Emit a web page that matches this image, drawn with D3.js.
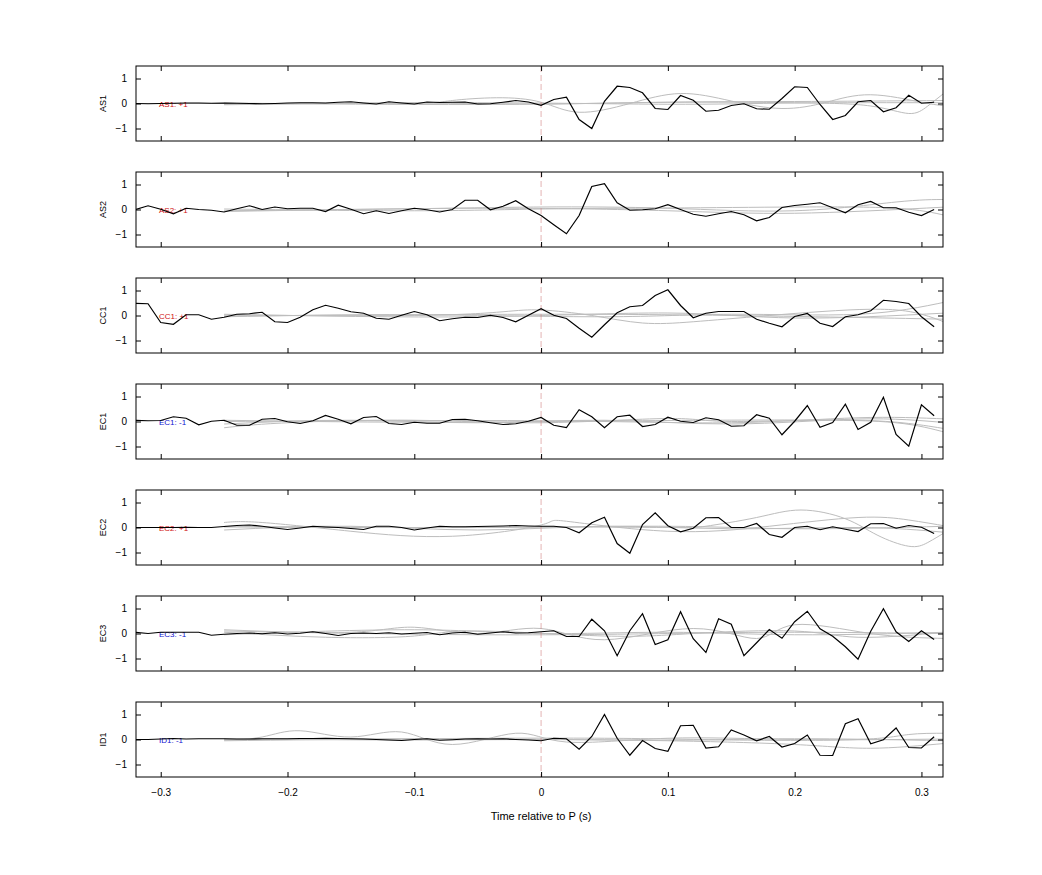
<!DOCTYPE html>
<html>
<head>
<meta charset="utf-8">
<script src="https://cdn.jsdelivr.net/npm/d3@7"></script>
<style>
body { margin: 0; background: #fff; }
text { font-family: "Liberation Sans", Arial, sans-serif; }
</style>
</head>
<body>
<div id="chart"></div>
<script>
// channel names, polarity labels
var channels = ["AS1", "AS2", "CC1", "EC1", "EC2", "EC3", "ID1"];
var labels = ["AS1: +1", "AS2: +1", "CC1: +1", "EC1: -1", "EC2: +1", "EC3: -1", "ID1: -1"];
var polarity = [1, 1, 1, -1, 1, -1, -1];
var xTicks = [-0.3, -0.2, -0.1, 0, 0.1, 0.2, 0.3];
var yTicks = [-1, 0, 1];

// sample times -0.32 .. 0.31 (s)
var times = d3.range(-32, 32).map(function(k) { return k / 100; });

// black traces: before P (32 samples) and after P (32 samples)
var pre = {
  AS1: [0,-0.01,0,0.01,0.02,0.02,0.01,0.02,0.01,0,-0.01,0,0.02,0.03,0.03,0.02,0.05,0.07,0.02,-0.02,0.07,0.02,-0.02,0.06,0.04,0.05,0.06,-0.02,-0.01,0.05,0.12,0.06],
  AS2: [0,0.15,0.01,-0.17,0.05,0,-0.03,-0.1,0.03,0.15,0,0.1,0.03,0.05,0.05,-0.08,0.17,0.01,-0.17,-0.05,-0.16,-0.05,0.05,-0.01,-0.1,0,0.37,0.37,-0.01,0.13,0.35,0.03],
  CC1: [0.49,0.47,-0.28,-0.35,0.03,0.03,-0.15,-0.07,0.05,0.07,0.13,-0.25,-0.28,-0.07,0.23,0.41,0.29,0.15,0.09,-0.11,-0.15,0.01,0.16,0.03,-0.21,-0.13,-0.07,-0.08,0.01,-0.08,-0.25,0.01],
  EC1: [0.05,0.03,0.04,0.19,0.13,-0.13,0.01,0.05,-0.15,-0.15,0.09,0.12,-0.01,-0.08,0.03,0.24,0.09,-0.09,0.16,0.2,-0.08,-0.12,-0.03,-0.07,-0.07,0.08,0.09,0.03,-0.05,-0.12,-0.09,0.01],
  EC2: [0,0,0,0,0.01,0,0,0.04,0.08,0.1,0.05,-0.02,-0.08,-0.02,0.05,0.02,0,-0.04,-0.08,0.05,0.05,0,-0.1,-0.02,0.05,0.03,0.03,0.04,0.05,0.06,0.08,0.06],
  EC3: [0.05,0,0.05,0.05,0.05,0.05,-0.07,-0.03,0,0.02,-0.01,0.03,-0.02,0.01,0.07,0,-0.08,0,0.02,0,0.03,-0.02,0.01,0.04,-0.05,0.02,0.05,-0.03,0.02,0.07,0.02,0.03],
  ID1: [0,0,0.02,0.04,0.02,0.03,0.03,0.03,0.02,0.02,0.03,0.03,0.03,0.04,0.04,0.05,0.04,0.03,0.02,0,-0.02,-0.04,0,0.03,-0.03,-0.01,0.02,0.03,0.02,0.03,0,-0.02]
};
var post = {
  AS1: [-0.07,0.16,0.25,-0.64,-1.0,0.09,0.69,0.64,0.43,-0.2,-0.24,0.32,0.13,-0.31,-0.27,-0.08,-0.01,-0.21,-0.23,0.2,0.67,0.64,-0.04,-0.64,-0.48,0.07,0.12,-0.33,-0.17,0.33,0.01,0.05],
  AS2: [-0.24,-0.61,-0.97,-0.24,0.92,1.03,0.27,-0.03,-0.01,0.03,0.19,0,-0.19,-0.27,-0.17,-0.08,-0.21,-0.45,-0.32,0.08,0.16,0.21,0.27,0.07,-0.13,0.19,0.32,0.07,0.07,-0.11,-0.24,0],
  CC1: [0.27,0.01,-0.12,-0.51,-0.87,-0.37,0.11,0.35,0.4,0.8,1.03,0.4,-0.09,0.09,0.16,0.16,0.16,-0.15,-0.31,-0.45,-0.04,0.08,-0.31,-0.44,-0.05,0.03,0.19,0.61,0.56,0.48,-0.05,-0.45],
  EC1: [0.16,-0.15,-0.24,0.47,0.19,-0.25,0.19,0.25,-0.2,-0.12,0.17,0.01,-0.04,0.15,0.07,-0.19,-0.17,0.27,0.13,-0.53,0.01,0.64,-0.23,-0.04,0.69,-0.32,-0.03,0.97,-0.52,-0.99,0.67,0.23],
  EC2: [0.05,0.05,0,-0.21,0.19,0.41,-0.64,-1.03,0.12,0.59,0.07,-0.17,-0.03,0.39,0.4,0,0,0.16,-0.28,-0.39,0,0.05,-0.09,0.03,-0.07,-0.16,0.15,0.16,-0.03,0.08,0.01,-0.24],
  EC3: [0.07,0.11,-0.12,-0.12,0.57,0.11,-0.89,0.11,0.79,-0.44,-0.25,0.87,-0.21,-0.76,0.59,0.37,-0.89,-0.37,0.16,-0.19,0.47,0.89,0.19,-0.11,-0.53,-1.03,0.09,0.99,0.07,-0.32,0.11,-0.24],
  ID1: [-0.05,0.05,0.03,-0.39,0.12,1.0,0.05,-0.63,-0.04,-0.36,-0.47,0.55,0.57,-0.34,-0.29,0.38,0.18,-0.05,0.12,-0.3,-0.16,0.18,-0.63,-0.64,0.63,0.83,-0.17,-0.01,0.46,-0.32,-0.34,0.11]
};

// grey comparison traces: knots [t, value]
var grey = {
  AS1: [
    [[-0.32,0],[-0.2,0],[-0.1,0.02],[-0.07,0.12],[-0.035,0.23],[0,0.05],[0.03,-0.35],[0.07,0],[0.11,0.4],[0.15,0.1],[0.19,-0.2],[0.225,0.05],[0.26,0.35],[0.3,0.05],[0.32,-0.1]],
    [[-0.25,-0.03],[-0.1,0.02],[0,-0.02],[0.1,0.05],[0.2,0.03],[0.26,-0.1],[0.29,-0.4],[0.305,-0.1],[0.32,0.5]],
    [[-0.25,0.02],[-0.05,-0.04],[0.1,0.05],[0.2,0.08],[0.32,0.12]],
    [[-0.25,-0.05],[-0.05,0.03],[0.1,-0.03],[0.2,0.02],[0.32,0.03]]
  ],
  AS2: [
    [[-0.25,-0.05],[-0.1,0.03],[0,0.1],[0.1,0.05],[0.2,-0.05],[0.28,0.3],[0.32,0.4]],
    [[-0.25,0.02],[-0.1,-0.05],[0,0.02],[0.1,0.06],[0.2,0.1],[0.28,0.05],[0.32,-0.25]],
    [[-0.25,-0.08],[-0.05,0.05],[0.1,-0.05],[0.2,-0.15],[0.32,0.1]]
  ],
  CC1: [
    [[-0.25,0.02],[-0.1,0],[-0.03,0.15],[0,0.22],[0.04,0],[0.08,-0.3],[0.12,-0.25],[0.18,0],[0.26,0.25],[0.3,0.05],[0.32,-0.3]],
    [[-0.25,-0.05],[-0.1,0.03],[0.05,-0.05],[0.15,0.05],[0.25,0.05],[0.32,0.55]],
    [[-0.25,0.05],[-0.05,-0.05],[0.1,0.1],[0.2,-0.1],[0.32,0.1]],
    [[-0.25,-0.02],[0,0.05],[0.15,0],[0.25,-0.08],[0.32,-0.15]]
  ],
  EC1: [
    [[-0.25,-0.25],[-0.2,-0.05],[-0.1,0.05],[0,-0.05],[0.1,0.12],[0.15,0],[0.25,0.05],[0.32,-0.3]],
    [[-0.25,-0.1],[-0.15,0.05],[-0.05,-0.05],[0.05,0.05],[0.15,-0.1],[0.25,0.1],[0.32,-0.05]],
    [[-0.25,0.05],[-0.1,-0.03],[0.05,0.02],[0.2,0.06],[0.28,-0.05],[0.32,-0.45]],
    [[-0.25,0],[0,0.03],[0.15,-0.05],[0.25,0.15],[0.32,0.1]]
  ],
  EC2: [
    [[-0.25,0.02],[-0.1,0],[0,0.02],[0.1,0],[0.13,0.05],[0.17,0.4],[0.205,0.7],[0.24,0.35],[0.265,-0.3],[0.29,-0.75],[0.305,-0.6],[0.32,-0.15]],
    [[-0.25,0.2],[-0.22,0.2],[-0.15,-0.15],[-0.07,-0.35],[0,0.1],[0.02,0.25],[0.1,-0.15],[0.18,0.05],[0.25,0.4],[0.29,0.3],[0.32,0.05]],
    [[-0.25,-0.1],[-0.15,0.05],[-0.05,-0.1],[0.05,0.05],[0.15,-0.05],[0.25,0],[0.32,-0.2]],
    [[-0.25,0.05],[-0.05,0],[0.1,0.05],[0.2,-0.05],[0.32,0.05]]
  ],
  EC3: [
    [[-0.25,0.15],[-0.15,0.05],[-0.1,0.25],[-0.05,0],[0,0.2],[0.05,-0.25],[0.12,0.2],[0.17,-0.2],[0.2,0.35],[0.26,0],[0.32,-0.2]],
    [[-0.25,0.05],[-0.17,-0.15],[-0.1,-0.1],[-0.05,0.1],[0.05,-0.1],[0.12,0],[0.2,0.1],[0.25,-0.15],[0.32,0.05]],
    [[-0.25,-0.05],[-0.1,0.15],[0,0],[0.1,0.05],[0.2,-0.05],[0.32,0.05]],
    [[-0.25,0.1],[-0.05,-0.05],[0.1,0],[0.2,0.05],[0.32,0]]
  ],
  ID1: [
    [[-0.25,-0.02],[-0.22,0.1],[-0.19,0.35],[-0.15,0.1],[-0.11,0.3],[-0.07,-0.2],[-0.02,0.25],[0.02,-0.1],[0.1,0.05],[0.2,0],[0.32,0.02]],
    [[-0.25,0.02],[-0.1,-0.02],[0,0],[0.1,-0.05],[0.2,-0.2],[0.26,-0.35],[0.32,-0.15]],
    [[-0.25,-0.05],[-0.1,0.03],[0.05,0.05],[0.15,-0.02],[0.25,0],[0.29,0.2],[0.32,0.25]],
    [[-0.25,0],[-0.05,0.02],[0.1,-0.03],[0.2,0.03],[0.32,-0.05]]
  ]
};

var W = 1042, H = 875;
var left = 136, right = 943, top0 = 66, panelH = 75, step = 106;

var svg = d3.select("#chart").append("svg")
    .attr("width", W)
    .attr("height", H);

var x = d3.scaleLinear().domain([-0.3195, 0.317]).range([left, right]);

channels.forEach(function(ch, i) {
  var top = top0 + i * step;
  var y = d3.scaleLinear().domain([-1.5, 1.5]).range([top + panelH, top]);
  var g = svg.append("g");

  var clipId = "clip" + i;
  g.append("clipPath").attr("id", clipId)
    .append("rect").attr("x", left).attr("y", top).attr("width", right - left).attr("height", panelH);

  var plot = g.append("g").attr("clip-path", "url(#" + clipId + ")");

  // grey traces
  var gl = d3.line().x(function(d) { return x(d[0]); }).y(function(d) { return y(d[1]); })
      .curve(d3.curveNatural);
  grey[ch].forEach(function(k) {
    plot.append("path").attr("d", gl(k))
      .attr("fill", "none").attr("stroke", "#bdbdbd").attr("stroke-width", 1);
  });

  // P marker
  plot.append("line")
    .attr("x1", x(0)).attr("x2", x(0))
    .attr("y1", top).attr("y2", top + panelH)
    .attr("stroke", "#d08080").attr("stroke-width", 0.6)
    .attr("stroke-dasharray", "6,3");

  // label
  plot.append("text")
    .attr("x", 159).attr("y", y(0) + 3)
    .attr("font-size", 8)
    .attr("fill", polarity[i] > 0 ? "#d01010" : "#1010d0")
    .text(labels[i]);

  // black trace
  var vals = pre[ch].concat(post[ch]);
  var bl = d3.line().x(function(d, j) { return x(times[j]); }).y(function(d) { return y(d); });
  plot.append("path").attr("d", bl(vals))
    .attr("fill", "none").attr("stroke", "#000").attr("stroke-width", 1.2);

  // frame
  g.append("rect").attr("x", left).attr("y", top).attr("width", right - left).attr("height", panelH)
    .attr("fill", "none").attr("stroke", "#000").attr("stroke-width", 1);

  // inward ticks
  var axB = d3.axisBottom(x).tickValues(xTicks).tickSizeInner(-5).tickSizeOuter(0)
      .tickFormat(i === channels.length - 1 ? d3.format("") : function() { return ""; });
  var axT = d3.axisTop(x).tickValues(xTicks).tickSizeInner(-5).tickSizeOuter(0).tickFormat("");
  var axL = d3.axisLeft(y).tickValues(yTicks).tickSizeInner(-5).tickSizeOuter(0).tickFormat(d3.format(""));
  var axR = d3.axisRight(y).tickValues(yTicks).tickSizeInner(-5).tickSizeOuter(0).tickFormat("");

  [[axB, "translate(0," + (top + panelH) + ")"], [axT, "translate(0," + top + ")"],
   [axL, "translate(" + left + ",0)"], [axR, "translate(" + right + ",0)"]].forEach(function(a) {
    var ag = g.append("g").attr("transform", a[1]).call(a[0]);
    ag.select(".domain").remove();
    ag.selectAll("text").attr("font-size", 10).attr("font-family", "Liberation Sans, Arial, sans-serif");
  });
  g.selectAll(".tick text").each(function() {
    var t = d3.select(this);
    if (t.attr("y") !== null && +t.attr("y") > 0) t.attr("y", 12);
  });
  g.selectAll("g[transform='translate(" + left + ",0)'] .tick text").attr("x", -9);

  // channel name
  g.append("text")
    .attr("transform", "translate(106," + y(0) + ") rotate(-90)")
    .attr("text-anchor", "middle")
    .attr("font-size", 9)
    .text(ch);
});

svg.append("text")
  .attr("x", x(0)).attr("y", 820)
  .attr("text-anchor", "middle")
  .attr("font-size", 11)
  .text("Time relative to P (s)");
</script>
</body>
</html>
